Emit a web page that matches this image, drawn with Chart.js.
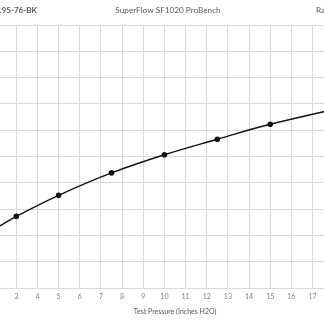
<!DOCTYPE html>
<html>
<head>
<meta charset="utf-8">
<script src="https://cdn.jsdelivr.net/npm/chart.js@4"></script>
<style>
  html, body { margin: 0; padding: 0; background: #fff; overflow: hidden; width: 324px; height: 324px; }
  #wrap { position: absolute; left: -66px; top: 0; width: 468px; height: 324px; }
</style>
</head>
<body>
<div id="wrap"><canvas id="flowChart" width="468" height="324"></canvas></div>
<script>
const pressure = [2, 3, 5, 7.5, 10, 12.5, 15, 20];
const flow = [22.6, 27.3, 35.3, 43.8, 50.7, 56.6, 62.3, 71.5];

const chartTitle = "SuperFlow SF1020 ProBench";
const leftLabel = "195-76-BK";
const rightLabel = "Ra";
const xTitle = "Test Pressure (Inches H2O)";

const textColor = "#595959";
const tickColor = "#7f7f7f";
const gridColor = "#d9d9d9";

const headerPlugin = {
  id: "header",
  afterDraw(chart) {
    const ctx = chart.ctx;
    ctx.save();
    ctx.fillStyle = textColor;
    ctx.textBaseline = "middle";
    ctx.font = "8.2px Lato";
    ctx.textAlign = "center";
    ctx.fillText(chartTitle, chart.width / 2, 10);
    ctx.font = "bold 8px Lato";
    ctx.textAlign = "right";
    ctx.fillText(leftLabel, 103, 10);
    ctx.font = "8.2px Lato";
    ctx.textAlign = "left";
    ctx.fillText(rightLabel, 382, 10);
    ctx.restore();
  }
};

const ctx = document.getElementById("flowChart").getContext("2d");

new Chart(ctx, {
  type: "scatter",
  data: {
    datasets: [{
      data: pressure.map((p, i) => ({ x: p, y: flow[i] })),
      showLine: true,
      borderColor: "#111",
      backgroundColor: "#111",
      borderWidth: 1.4,
      pointRadius: 2.1,
      pointHoverRadius: 2.1,
      tension: 0.4
    }]
  },
  options: {
    responsive: false,
    animation: false,
    layout: { padding: { top: 25, right: 26, bottom: 3, left: 0 } },
    plugins: {
      legend: { display: false },
      tooltip: { enabled: false }
    },
    scales: {
      x: {
        type: "linear",
        min: 1,
        max: 20,
        border: { color: gridColor },
        grid: { color: gridColor, drawTicks: false },
        ticks: {
          stepSize: 1,
          autoSkip: false,
          maxRotation: 0,
          padding: 4,
          color: tickColor,
          font: { family: "Lato", size: 7 }
        },
        title: {
          display: true,
          text: xTitle,
          color: textColor,
          font: { family: "Lato", size: 7 },
          padding: { top: 3, bottom: 5 }
        }
      },
      y: {
        min: 0,
        max: 100,
        border: { color: gridColor },
        grid: { color: gridColor, drawTicks: false },
        ticks: { stepSize: 10, color: tickColor, font: { family: "Lato", size: 7 } },
        afterFit(scale) { scale.width = 40; }
      }
    }
  },
  plugins: [headerPlugin]
});
</script>
</body>
</html>
